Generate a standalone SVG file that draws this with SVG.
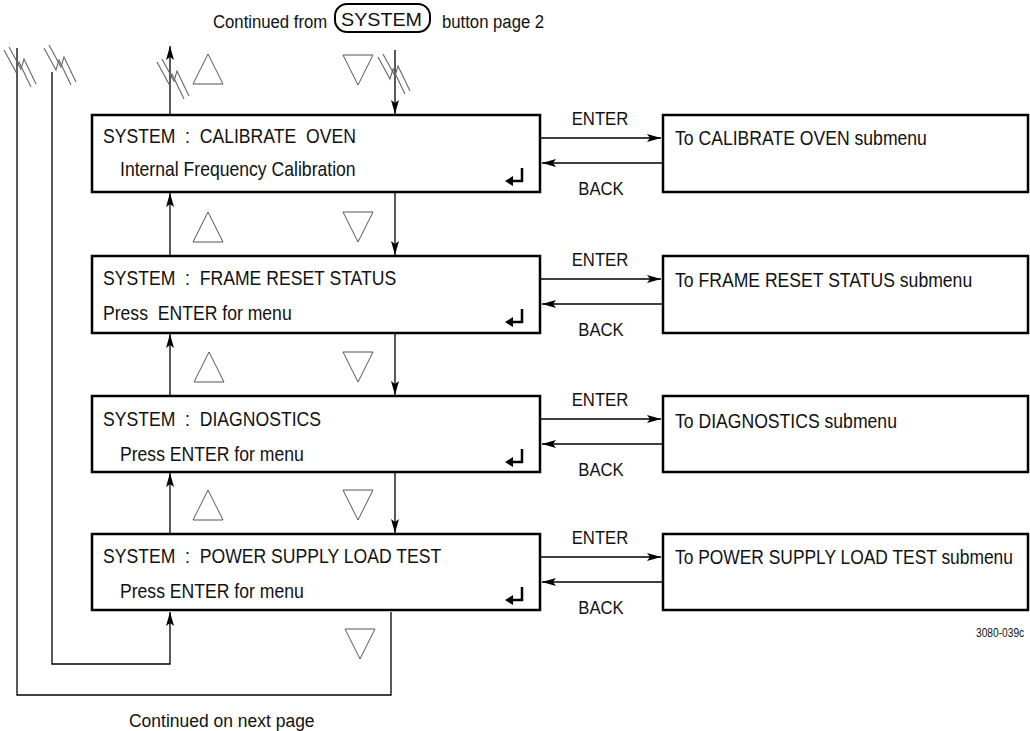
<svg xmlns="http://www.w3.org/2000/svg" width="1030" height="731" viewBox="0 0 1030 731">
<style>
text{font-family:"Liberation Sans",Arial,sans-serif;fill:#111;white-space:pre}
.t{font-size:20px}
.s{font-size:19px}
.box{fill:#fff;stroke:#000;stroke-width:2.5}
.ln{fill:none;stroke:#000;stroke-width:1.3}
.tri{fill:none;stroke:#555;stroke-width:1}
.brk{fill:none;stroke:#666;stroke-width:1.1}
.ret{fill:none;stroke:#000;stroke-width:2.5}
</style>
<defs>
<marker id="ah" viewBox="0 0 14 8" refX="14" refY="4" markerWidth="14" markerHeight="8" markerUnits="userSpaceOnUse" orient="auto">
<path d="M0,0 L14,4 L0,8 L3,4 Z" fill="#000"/>
</marker>
<g id="brk">
<path class="brk" d="M0,4 L12,26 L15,16 L27,41"/>
<path class="brk" d="M5,1 L17,23 L20,13 L32,38"/>
</g>
<g id="up"><polygon class="tri" points="0,30 30,30 15,0"/></g>
<g id="dn"><polygon class="tri" points="0,0 30,0 15,30"/></g>
<g id="ret">
<path class="ret" d="M522,0 V13 H511"/>
<path d="M505,13 L513,8 L513,18 Z" fill="#000"/>
</g>
</defs>

<text class="s" transform="translate(213,28) scale(0.88,1)">Continued from</text>
<g id="system-button">
<rect x="335" y="4" width="95" height="28" rx="12" fill="none" stroke="#000" stroke-width="2"/>
<text class="s" x="341" y="26" textLength="81" lengthAdjust="spacingAndGlyphs">SYSTEM</text>
</g>
<text class="s" transform="translate(442,28) scale(0.88,1)">button page 2</text>

<g id="connectors">
<path class="ln" d="M17,48 V695 H391 V612"/>
<path class="ln" d="M52,72 V664 H170 V612" marker-end="url(#ah)"/>
<path class="ln" d="M170,115 V46" marker-end="url(#ah)"/>
<path class="ln" d="M395,50 V114" marker-end="url(#ah)"/>
<path class="ln" d="M170,256 V193" marker-end="url(#ah)"/>
<path class="ln" d="M395,193 V255" marker-end="url(#ah)"/>
<path class="ln" d="M170,396 V334" marker-end="url(#ah)"/>
<path class="ln" d="M395,334 V395" marker-end="url(#ah)"/>
<path class="ln" d="M170,534 V473" marker-end="url(#ah)"/>
<path class="ln" d="M395,473 V533" marker-end="url(#ah)"/>
<path class="ln" d="M541,138 H661" marker-end="url(#ah)"/>
<path class="ln" d="M662,163 H542" marker-end="url(#ah)"/>
<path class="ln" d="M541,279 H661" marker-end="url(#ah)"/>
<path class="ln" d="M662,304 H542" marker-end="url(#ah)"/>
<path class="ln" d="M541,419 H661" marker-end="url(#ah)"/>
<path class="ln" d="M662,444 H542" marker-end="url(#ah)"/>
<path class="ln" d="M541,557 H661" marker-end="url(#ah)"/>
<path class="ln" d="M662,582 H542" marker-end="url(#ah)"/>
<use href="#brk" x="4" y="46"/>
<use href="#brk" x="44" y="44"/>
<use href="#brk" x="157" y="58"/>
<use href="#brk" x="378" y="53"/>
<text class="s" text-anchor="middle" transform="translate(600,125) scale(0.88,1)">ENTER</text>
<text class="s" text-anchor="middle" transform="translate(601,195) scale(0.88,1)">BACK</text>
<text class="s" text-anchor="middle" transform="translate(600,266) scale(0.88,1)">ENTER</text>
<text class="s" text-anchor="middle" transform="translate(601,336) scale(0.88,1)">BACK</text>
<text class="s" text-anchor="middle" transform="translate(600,406) scale(0.88,1)">ENTER</text>
<text class="s" text-anchor="middle" transform="translate(601,476) scale(0.88,1)">BACK</text>
<text class="s" text-anchor="middle" transform="translate(600,544) scale(0.88,1)">ENTER</text>
<text class="s" text-anchor="middle" transform="translate(601,614) scale(0.88,1)">BACK</text>
</g>

<use href="#up" x="193" y="54"/>
<use href="#dn" x="343" y="55"/>
<use href="#up" x="193" y="212"/>
<use href="#dn" x="343" y="212"/>
<use href="#up" x="194" y="352"/>
<use href="#dn" x="343" y="352"/>
<use href="#up" x="193" y="490"/>
<use href="#dn" x="343" y="490"/>
<use href="#dn" x="345" y="629"/>

<g id="node-calibrate-oven">
<rect class="box" x="92" y="115" width="448" height="77"/>
<text class="t" transform="translate(103,143) scale(0.88,1)">SYSTEM  :  CALIBRATE  OVEN</text>
<text class="t" transform="translate(120,176) scale(0.88,1)">Internal Frequency Calibration</text>
<use href="#ret" y="168"/>
</g>
<g id="node-frame-reset">
<rect class="box" x="92" y="256" width="448" height="77"/>
<text class="t" transform="translate(103,285) scale(0.88,1)">SYSTEM  :  FRAME RESET STATUS</text>
<text class="t" transform="translate(103,320) scale(0.88,1)">Press  ENTER for menu</text>
<use href="#ret" y="309"/>
</g>
<g id="node-diagnostics">
<rect class="box" x="92" y="396" width="448" height="76"/>
<text class="t" transform="translate(103,426) scale(0.88,1)">SYSTEM  :  DIAGNOSTICS</text>
<text class="t" transform="translate(120,461) scale(0.88,1)">Press ENTER for menu</text>
<use href="#ret" y="449"/>
</g>
<g id="node-power-supply">
<rect class="box" x="92" y="534" width="448" height="76"/>
<text class="t" transform="translate(103,563) scale(0.88,1)">SYSTEM  :  POWER SUPPLY LOAD TEST</text>
<text class="t" transform="translate(120,598) scale(0.88,1)">Press ENTER for menu</text>
<use href="#ret" y="587"/>
</g>

<g id="node-calibrate-sub">
<rect class="box" x="663" y="115" width="365" height="77"/>
<text class="t" transform="translate(675,145) scale(0.88,1)">To CALIBRATE OVEN submenu</text>
</g>
<g id="node-frame-sub">
<rect class="box" x="663" y="256" width="365" height="77"/>
<text class="t" transform="translate(675,287) scale(0.88,1)">To FRAME RESET STATUS submenu</text>
</g>
<g id="node-diag-sub">
<rect class="box" x="663" y="396" width="365" height="76"/>
<text class="t" transform="translate(675,428) scale(0.88,1)">To DIAGNOSTICS submenu</text>
</g>
<g id="node-power-sub">
<rect class="box" x="663" y="534" width="365" height="76"/>
<text class="t" transform="translate(675,564) scale(0.87,1)">To POWER SUPPLY LOAD TEST submenu</text>
</g>

<text font-size="12" transform="translate(976,637) scale(0.85,1)">3080-039c</text>
<text class="s" transform="translate(129,727) scale(0.92,1)">Continued on next page</text>
</svg>
